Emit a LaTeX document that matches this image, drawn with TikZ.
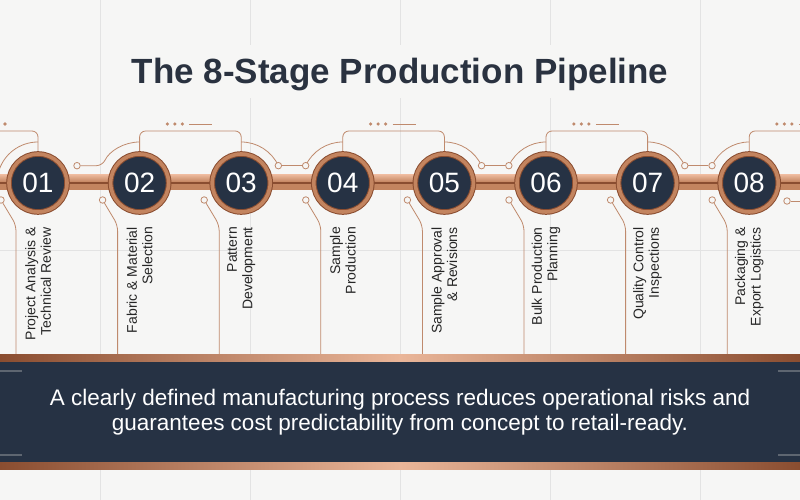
\documentclass[tikz,border=0pt]{standalone}
\usepackage{fontspec}
\setmainfont{Liberation Sans}
\setsansfont{Liberation Sans}
\newfontfamily\titlefont{Liberation Sans}
\usetikzlibrary{positioning, backgrounds, calc}

\definecolor{paper}{HTML}{F6F6F5}
\definecolor{gridline}{HTML}{E3E3E3}
\definecolor{navy}{HTML}{263244}
\definecolor{copper}{HTML}{C3845F}
\definecolor{copperlight}{HTML}{EAB699}
\definecolor{copperdark}{HTML}{8A4D30}
\definecolor{tracecol}{HTML}{BF8A6D}
\definecolor{ink}{HTML}{2A3240}
\definecolor{tick}{HTML}{5E6671}

\begin{document}
\begin{tikzpicture}[
	x=1pt, y=1pt,
	node distance=43.6pt,
	stagedisc/.style={
		circle,
		fill=navy,
		draw=copperdark,
		line width=1pt,
		double=copper,
		double distance=3.6pt,
		minimum size=58pt,
		inner sep=0pt,
		outer sep=0pt,
		text=white,
		font=\fontsize{28}{30}\selectfont
	},
	stagetext/.style={
		rotate=90,
		anchor=east,
		align=right,
		inner sep=0pt,
		text=black!85,
		font=\fontsize{14}{15.5}\selectfont
	},
	pad/.style={
		circle,
		draw=tracecol,
		fill=paper,
		line width=0.8pt,
		minimum size=6.5pt,
		inner sep=0pt
	},
	wire/.style={draw=tracecol, line width=0.8pt, rounded corners=6pt}
]

	\useasboundingbox (0,0) rectangle (800,500);

	\node[font=\titlefont\bfseries\fontsize{35}{40}\selectfont, text=ink] (title) at (400,425) {The 8-Stage Production Pipeline};

	% stage discs on the copper rail
	\node[stagedisc] (c1) at (38,317) {01};
	\node[stagedisc, right=of c1] (c2) {02};
	\node[stagedisc, right=of c2] (c3) {03};
	\node[stagedisc, right=of c3] (c4) {04};
	\node[stagedisc, right=of c4] (c5) {05};
	\node[stagedisc, right=of c5] (c6) {06};
	\node[stagedisc, right=of c6] (c7) {07};
	\node[stagedisc, right=of c7] (c8) {08};

	\node[stagetext] (t1) at ([yshift=-15pt]c1.south) {Project Analysis \&\\Technical Review};
	\node[stagetext] (t2) at ([yshift=-15pt]c2.south) {Fabric \& Material\\Selection};
	\node[stagetext] (t3) at ([yshift=-15pt]c3.south) {Pattern\\Development};
	\node[stagetext] (t4) at ([yshift=-15pt]c4.south) {Sample\\Production};
	\node[stagetext] (t5) at ([yshift=-15pt]c5.south) {Sample Approval\\\& Revisions};
	\node[stagetext] (t6) at ([yshift=-15pt]c6.south) {Bulk Production\\Planning};
	\node[stagetext] (t7) at ([yshift=-15pt]c7.south) {Quality Control\\Inspections};
	\node[stagetext] (t8) at ([yshift=-15pt]c8.south) {Packaging \&\\Export Logistics};

	% circuit pads
	\node[pad] (p1) at (77,334.3) {};
	\node[pad] (p3) at ($(c3.center)+(25:41)$) {};
	\node[pad] (p4) at ($(c4.center)+(155:41)$) {};
	\node[pad] (p5) at ($(c5.center)+(25:41)$) {};
	\node[pad] (p6) at ($(c6.center)+(155:41)$) {};
	\node[pad] (p7) at ($(c7.center)+(25:41)$) {};
	\node[pad] (p8) at ($(c8.center)+(155:41)$) {};
	\foreach \k in {1,...,8}
		\node[pad] (b\k) at ($(c\k.center)+(-37,-17)$) {};
	\node[pad] (b9) at (787,299) {};

	\begin{scope}[on background layer]
		\fill[paper] (0,0) rectangle (800,500);
		\foreach \gx in {100,250,...,700}
			\draw[gridline, line width=0.6pt] (\gx,0) -- (\gx,500);
		\draw[gridline, line width=0.6pt] (0,250) -- (800,250);
		\fill[paper] (110,402) rectangle (690,455);

		% brackets and dots
		\foreach \a/\b in {c2/c3, c4/c5, c6/c7} {
			\draw[wire] (\a.north) |- ($(\a.north)!0.5!(\b.north)+(0,23)$) -| (\b.north);
			\coordinate (m) at ($(\a.north)!0.5!(\b.north)+(0,30)$);
			\foreach \dx in {-23,-15.5,-8}
				\fill[tracecol] ($(m)+(\dx,0)$) circle (1.8);
			\draw[wire] ($(m)+(-1,0)$) -- ++(23,0);
		}
		\draw[wire] (c1.north) |- (-5,369);
		\fill[tracecol] (-2.5,376) circle (1.8) (5,376) circle (1.8);
		\draw[wire] (c8.north) |- (805,369);
		\foreach \dx in {776.8,784.3,791.8}
			\fill[tracecol] (\dx,376) circle (1.8);
		\draw[wire] (798.8,376) -- (805,376);

		% arcs round the discs
		\draw[wire] ([yshift=41pt]c1.center) arc[start angle=90, end angle=165, radius=41pt];
		\draw[wire] ([yshift=41pt]c2.center) arc[start angle=90, end angle=155, radius=41pt] -- (p1);
		\draw[wire] ([yshift=41pt]c3.center) arc[start angle=90, end angle=25, radius=41pt];
		\draw[wire] ([yshift=41pt]c4.center) arc[start angle=90, end angle=155, radius=41pt];
		\draw[wire] ([yshift=41pt]c5.center) arc[start angle=90, end angle=25, radius=41pt];
		\draw[wire] ([yshift=41pt]c6.center) arc[start angle=90, end angle=155, radius=41pt];
		\draw[wire] ([yshift=41pt]c7.center) arc[start angle=90, end angle=25, radius=41pt];
		\draw[wire] ([yshift=41pt]c8.center) arc[start angle=90, end angle=155, radius=41pt];
		\draw[wire] (p3) -- (p4);
		\draw[wire] (p5) -- (p6);
		\draw[wire] (p7) -- (p8);

		% drops to the bar
		\foreach \k in {1,...,8}
			\draw[wire] (b\k) -- ++(15,-25) -- ++(0,-130);
		\draw[wire] (b9) -- (805,299);

		% copper rail
		\fill[copper] (0,310) rectangle (800,325);
		\shade[top color=copperlight, bottom color=copper] (0,318) rectangle (800,325);
		\draw[copperdark, line width=1.4pt] (0,317) -- (800,317);

		% bottom bar
		\fill[navy] (0,37) rectangle (800,138);
		\shade[left color=copperdark, right color=copperdark, middle color=copperlight] (0,138) rectangle (800,145);
		\shade[left color=copperdark, right color=copperdark, middle color=copperlight] (0,30) rectangle (800,37);
		\draw[tick, line width=1.5pt] (0,129) -- (22,129) (0,45) -- (22,45);
		\draw[tick, line width=1.5pt] (778,129) -- (800,129) (778,45) -- (800,45);
	\end{scope}

	\node[text=white, align=center, font=\fontsize{22.5}{25}\selectfont] (note) at (400,87.5) {A clearly defined manufacturing process reduces operational risks and\\guarantees cost predictability from concept to retail-ready.};

\end{tikzpicture}
\end{document}
